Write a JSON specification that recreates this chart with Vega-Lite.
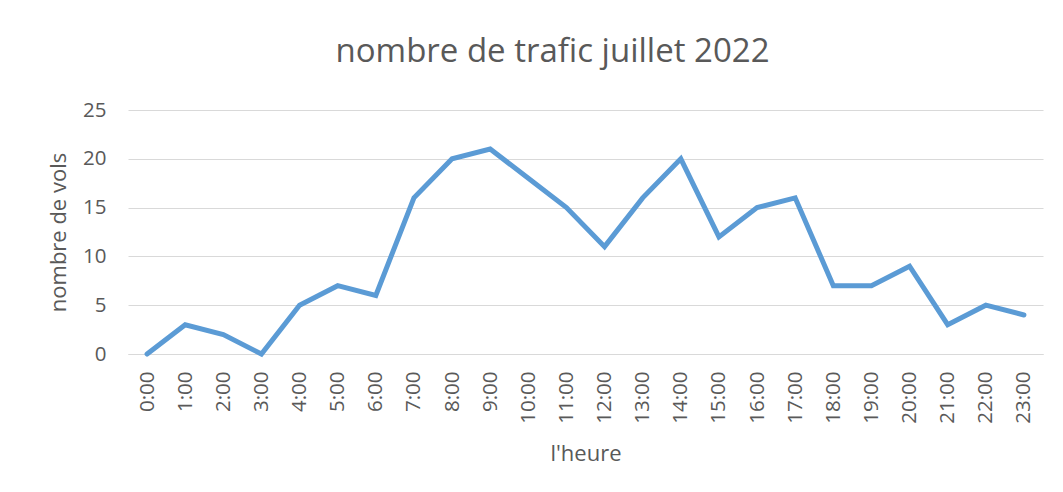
{
  "$schema": "https://vega.github.io/schema/vega-lite/v6.json",
  "width": 915,
  "height": 244,
  "autosize": {"type": "none"},
  "padding": {"left": 128, "top": 110, "right": 20, "bottom": 138},
  "background": "white",
  "title": {
    "text": "nombre de trafic juillet 2022",
    "font": "Open Sans",
    "fontSize": 33,
    "fontWeight": "normal",
    "color": "#595959",
    "anchor": "middle",
    "dx": -33,
    "offset": 31
  },
  "config": {
    "view": {"stroke": null},
    "axis": {
      "labelFont": "Open Sans",
      "titleFont": "Open Sans",
      "labelColor": "#595959",
      "titleColor": "#595959",
      "labelFontSize": 20.5,
      "titleFontSize": 22,
      "titleFontWeight": "normal",
      "ticks": false
    }
  },
  "data": {
    "values": [
      {"heure": "0:00", "vols": 0},
      {"heure": "1:00", "vols": 3},
      {"heure": "2:00", "vols": 2},
      {"heure": "3:00", "vols": 0},
      {"heure": "4:00", "vols": 5},
      {"heure": "5:00", "vols": 7},
      {"heure": "6:00", "vols": 6},
      {"heure": "7:00", "vols": 16},
      {"heure": "8:00", "vols": 20},
      {"heure": "9:00", "vols": 21},
      {"heure": "10:00", "vols": 18},
      {"heure": "11:00", "vols": 15},
      {"heure": "12:00", "vols": 11},
      {"heure": "13:00", "vols": 16},
      {"heure": "14:00", "vols": 20},
      {"heure": "15:00", "vols": 12},
      {"heure": "16:00", "vols": 15},
      {"heure": "17:00", "vols": 16},
      {"heure": "18:00", "vols": 7},
      {"heure": "19:00", "vols": 7},
      {"heure": "20:00", "vols": 9},
      {"heure": "21:00", "vols": 3},
      {"heure": "22:00", "vols": 5},
      {"heure": "23:00", "vols": 4}
    ]
  },
  "mark": {"type": "line", "color": "#5B9BD5", "strokeWidth": 5, "strokeJoin": "miter", "strokeCap": "round"},
  "encoding": {
    "x": {
      "field": "heure",
      "type": "ordinal",
      "sort": null,
      "scale": {"type": "point", "padding": 0.5},
      "axis": {
        "title": "l'heure",
        "labelAngle": 270,
        "labelAlign": "right",
        "labelBaseline": "middle",
        "labelPadding": 17,
        "titlePadding": 20,
        "domainColor": "#d9d9d9",
        "domainWidth": 1,
        "grid": false
      }
    },
    "y": {
      "field": "vols",
      "type": "quantitative",
      "scale": {"domain": [0, 25], "nice": false},
      "axis": {
        "title": "nombre de vols",
        "values": [0, 5, 10, 15, 20, 25],
        "domain": false,
        "grid": true,
        "gridColor": "#d9d9d9",
        "labelPadding": 22,
        "titlePadding": 12
      }
    }
  }
}
